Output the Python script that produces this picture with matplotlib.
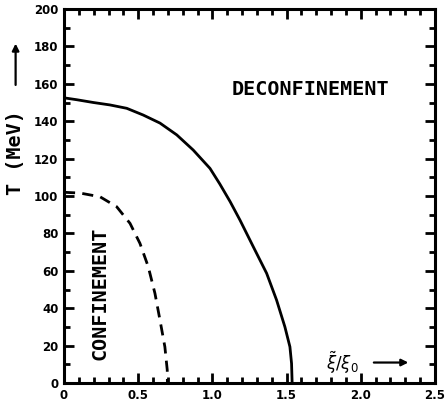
import matplotlib
matplotlib.use("Agg")
from matplotlib import pyplot as plt
from matplotlib.ticker import MultipleLocator

# phase boundary
solid_x = [0.0, 0.085, 0.198, 0.31, 0.423, 0.534, 0.647, 0.76, 0.871, 0.984,
           1.05, 1.12, 1.186, 1.276, 1.366, 1.433, 1.489, 1.523, 1.534, 1.538]
solid_y = [152.5, 151.5, 150, 148.7, 146.9, 143.3, 139, 132.7, 124.6, 114.8,
           106.5, 97, 87.2, 72.9, 58.7, 44.4, 30.1, 19.4, 10.5, 0]

dashed_x = [0.0, 0.108, 0.243, 0.355, 0.445, 0.512, 0.568, 0.613, 0.647, 0.68,
            0.696, 0.697]
dashed_y = [102, 101.6, 99.6, 94.3, 85.4, 74.7, 62.2, 48, 33.7, 19.4, 7, 0]

x_ticks = [0, 0.5, 1.0, 1.5, 2.0, 2.5]
x_ticklabels = ["0", "0.5", "1.0", "1.5", "2.0", "2.5"]
y_ticks = [0, 20, 40, 60, 80, 100, 120, 140, 160, 180, 200]

fig = plt.figure(figsize=(4.46, 4.08), dpi=100)
ax = fig.add_axes([0.1435, 0.061, 0.8315, 0.917])

ax.plot(solid_x, solid_y, color="black", lw=2.0)
ax.plot(dashed_x, dashed_y, color="black", lw=2.0, dashes=(4, 2.6))

ax.set_xlim(0, 2.5)
ax.set_ylim(0, 200)
ax.set_xticks(x_ticks)
ax.set_xticklabels(x_ticklabels)
ax.set_yticks(y_ticks)
ax.xaxis.set_minor_locator(MultipleLocator(0.1))
ax.yaxis.set_minor_locator(MultipleLocator(10))

for s in ax.spines.values():
    s.set_linewidth(2.2)

ax.tick_params(which="both", direction="in", top=True, right=True, width=2.0)
ax.tick_params(which="major", length=7, labelsize=8.5, pad=4)
ax.tick_params(which="minor", length=4.5)
for lab in ax.get_xticklabels() + ax.get_yticklabels():
    lab.set_fontweight("heavy")

mono = dict(family="DejaVu Sans Mono", fontweight="bold", fontsize=14.5)

ax.text(1.66, 157, "DECONFINEMENT", ha="center", va="center", **mono)
ax.text(0.24, 48, "CONFINEMENT", ha="center", va="center", rotation=90, **mono)

# x axis label with arrow
ax.text(1.88, 11, r"$\tilde{\xi}/\xi_0$", ha="center", va="center", fontsize=12)
ax.annotate("", xy=(2.34, 11), xytext=(2.07, 11),
            arrowprops=dict(arrowstyle="-|>", color="black", lw=1.6,
                            mutation_scale=10))

# y axis label with arrow
fig.text(0.035, 0.625, "T (MeV)", rotation=90, ha="center", va="center", **mono)
ax.annotate("", xy=(0.035, 0.9), xytext=(0.035, 0.785),
            xycoords="figure fraction", textcoords="figure fraction",
            arrowprops=dict(arrowstyle="-|>", color="black", lw=1.6,
                            mutation_scale=10))

fig.savefig("out.png", dpi=100)
